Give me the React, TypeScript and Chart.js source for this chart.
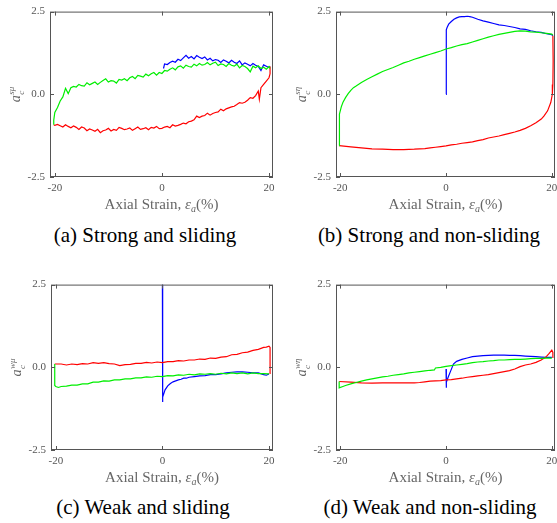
import { useEffect, useRef } from "react";
import { Chart, registerables } from "chart.js";

Chart.register(...registerables);

// ---- axis ticks ----
const X_TICKS = [-20, 0, 20];
const Y_TICKS = [-2.5, 0, 2.5];

// ---- (a) strong and sliding ----
const aBlueX = [0.3, 0.5, 1, 1.5, 2, 2.5, 3, 3.5, 4, 4.5, 5, 5.5, 6, 6.5, 7, 7.5, 8, 8.5, 9, 9.5, 10, 10.5, 11, 11.5, 12, 12.5, 13, 13.5, 14, 14.5, 15, 15.5, 16, 16.5, 17, 17.5, 18, 18.5, 19, 19.5, 20, 20.2];
const aBlueY = [0.78, 0.92, 0.9, 0.96, 1.0, 0.97, 1.06, 1.02, 1.1, 1.18, 1.09, 1.14, 1.07, 1.17, 1.12, 1.08, 1.13, 1.04, 1.09, 1.01, 1.05, 1.03, 0.96, 1.04, 1.0, 0.95, 1.03, 0.97, 0.93, 1.01, 0.89, 0.95, 0.91, 0.86, 0.93, 0.88, 0.84, 0.72, 0.89, 0.85, 0.81, 0.84];

const aRedX = [20.2, 20.2, 20, 19.5, 19, 18.5, 18.2, 18, 17.5, 17, 16.5, 16, 15.5, 15, 14.5, 14, 13.5, 13, 12.5, 12, 11.5, 11, 10.5, 10, 9.5, 9, 8.5, 8, 7.5, 7, 6.5, 6, 5.5, 5, 4.5, 4, 3.5, 3, 2.5, 2, 1.5, 1, 0.5, 0, -0.5, -1, -1.5, -2, -2.5, -3, -3.5, -4, -4.5, -5, -5.5, -6, -6.5, -7, -7.5, -8, -8.5, -9, -9.5, -10, -10.5, -11, -11.5, -12, -12.5, -13, -13.5, -14, -14.5, -15, -15.5, -16, -16.5, -17, -17.5, -18, -18.5, -19, -19.5, -20, -20.2];
const aRedY = [0.84, 0.62, 0.5, 0.4, 0.3, 0.2, -0.15, 0.1, -0.04, -0.12, -0.1, -0.18, -0.24, -0.27, -0.25, -0.31, -0.36, -0.38, -0.41, -0.44, -0.5, -0.45, -0.53, -0.55, -0.58, -0.63, -0.57, -0.64, -0.66, -0.7, -0.66, -0.77, -0.81, -0.83, -0.89, -0.87, -0.91, -0.94, -0.96, -0.92, -1.01, -0.97, -0.99, -1.03, -1.04, -0.97, -1.02, -1.0, -1.07, -1.01, -1.04, -1.06, -0.99, -1.04, -1.09, -1.02, -1.05, -1.07, -1.03, -1.0, -1.09, -1.06, -1.11, -1.03, -1.08, -1.1, -1.16, -1.06, -1.12, -1.08, -1.05, -1.1, -1.02, -0.99, -1.06, -1.0, -0.96, -1.01, -0.97, -0.92, -0.99, -0.95, -0.91, -0.94, -0.92];

const aGreenX = [-20.2, -20.2, -20, -19.5, -19, -18.5, -18, -17.5, -17, -16.5, -16, -15.5, -15, -14.5, -14, -13.5, -13, -12.5, -12, -11.5, -11, -10.5, -10, -9.5, -9, -8.5, -8, -7.5, -7, -6.5, -6, -5.5, -5, -4.5, -4, -3.5, -3, -2.5, -2, -1.5, -1, -0.5, 0, 0.5, 1, 1.5, 2, 2.5, 3, 3.5, 4, 4.5, 5, 5.5, 6, 6.5, 7, 7.5, 8, 8.5, 9, 9.5, 10, 10.5, 11, 11.5, 12, 12.5, 13, 13.5, 14, 14.5, 15, 15.5, 16, 16.5, 17, 17.5, 18, 18.5, 19, 19.5, 20, 20.2];
const aGreenY = [-0.92, -0.78, -0.55, -0.4, -0.2, -0.08, 0.18, 0.02, 0.2, 0.24, 0.22, 0.3, 0.26, 0.25, 0.35, 0.29, 0.33, 0.37, 0.3, 0.36, 0.42, 0.47, 0.37, 0.41, 0.4, 0.34, 0.45, 0.43, 0.47, 0.41, 0.5, 0.54, 0.47, 0.57, 0.55, 0.52, 0.61, 0.56, 0.62, 0.66, 0.58, 0.66, 0.63, 0.72, 0.7, 0.76, 0.8, 0.74, 0.83, 0.86, 0.79, 0.88, 0.84, 0.82, 0.91, 0.86, 0.93, 0.88, 0.9, 0.96, 0.89, 0.94, 0.97, 0.87, 0.92, 0.9, 0.84, 0.93, 0.88, 0.85, 0.91, 0.8, 0.87, 0.84, 0.78, 0.68, 0.85, 0.8, 0.86, 0.78, 0.82, 0.76, 0.84, 0.78];

// ---- (b) strong and non-sliding ----
const bBlueX = [0, 0.05, 0.2, 0.5, 1, 1.5, 2, 2.5, 3, 3.5, 4, 4.5, 5, 5.5, 6, 7, 8, 9, 10, 11, 12, 13, 14, 15, 16, 17, 18, 19, 20, 20.2];
const bBlueY = [0, 1.95, 2.02, 2.12, 2.2, 2.27, 2.31, 2.34, 2.35, 2.35, 2.36, 2.35, 2.33, 2.3, 2.27, 2.22, 2.18, 2.14, 2.1, 2.08, 2.05, 2.02, 1.98, 1.96, 1.92, 1.89, 1.87, 1.83, 1.8, 1.77];

const bRedX = [20.2, 20.25, 20.2, 20.1, 19.8, 19.2, 18.5, 18, 17, 16, 15, 14, 13, 12, 11, 10, 9, 8, 7, 6, 5, 4, 3, 2, 1, 0, -1, -2, -3, -4, -5, -6, -8, -10, -12, -14, -16, -18, -20.2];
const bRedY = [1.77, 1.0, 0.3, 0.0, -0.25, -0.5, -0.66, -0.75, -0.86, -0.95, -1.03, -1.09, -1.14, -1.18, -1.22, -1.26, -1.29, -1.32, -1.37, -1.4, -1.44, -1.46, -1.48, -1.51, -1.53, -1.56, -1.58, -1.6, -1.62, -1.64, -1.65, -1.66, -1.67, -1.67, -1.66, -1.65, -1.62, -1.59, -1.55];

const bGreenX = [-20.2, -20.2, -20.1, -19.8, -19.5, -19, -18.5, -18, -17.5, -17, -16, -15, -14, -13, -12, -11, -10, -9, -8, -7, -6, -5, -4, -3, -2, -1, 0, 1, 2, 3, 4, 5, 6, 7, 8, 9, 10, 11, 12, 13, 14, 15, 16, 17, 18, 19, 20, 20.2];
const bGreenY = [-1.55, -0.9, -0.6, -0.38, -0.25, -0.1, 0.02, 0.12, 0.2, 0.25, 0.36, 0.45, 0.53, 0.61, 0.69, 0.75, 0.81, 0.88, 0.95, 1.0, 1.06, 1.11, 1.16, 1.21, 1.26, 1.31, 1.37, 1.41, 1.46, 1.5, 1.53, 1.58, 1.63, 1.68, 1.73, 1.77, 1.81, 1.84, 1.87, 1.9, 1.92, 1.91, 1.89, 1.88, 1.86, 1.84, 1.82, 1.79];

// ---- (c) weak and sliding ----
const cBlueX = [0, 0, 0.1, 0.3, 0.5, 1, 1.5, 2, 2.5, 3, 3.5, 4, 4.5, 5, 6, 7, 8, 9, 10, 11, 12, 13, 14, 15, 16, 17, 18, 19, 19.5, 20];
const cBlueY = [2.5, -1.05, -0.9, -0.78, -0.68, -0.56, -0.49, -0.44, -0.41, -0.38, -0.36, -0.33, -0.33, -0.3, -0.28, -0.26, -0.25, -0.22, -0.22, -0.2, -0.17, -0.15, -0.14, -0.14, -0.15, -0.17, -0.17, -0.22, -0.24, -0.2];

const cRedX = [20.2, 20.2, 20, 19.5, 19, 18, 17, 16, 15, 14, 13, 12, 11, 10, 9, 8, 7, 6, 5, 4, 3, 2, 1, 0, -1, -2, -3, -4, -5, -6, -7, -8, -9, -10, -11, -12, -13, -14, -15, -16, -17, -18, -19, -20.2];
const cRedY = [-0.2, 0.6, 0.64, 0.61, 0.6, 0.54, 0.51, 0.46, 0.44, 0.39, 0.38, 0.32, 0.31, 0.27, 0.28, 0.24, 0.25, 0.22, 0.22, 0.19, 0.2, 0.17, 0.17, 0.14, 0.16, 0.13, 0.15, 0.12, 0.12, 0.09, 0.08, 0.05, 0.1, 0.11, 0.14, 0.12, 0.14, 0.1, 0.11, 0.08, 0.1, 0.07, 0.1, 0.1];

const cGreenX = [-20.2, -20.2, -20, -19.5, -19, -18, -17, -16, -15, -14, -13, -12, -11, -10, -9, -8, -7, -6, -5, -4, -3, -2, -1, 0, 1, 2, 3, 4, 5, 6, 7, 8, 9, 10, 11, 12, 13, 14, 15, 16, 17, 18, 19, 20];
const cGreenY = [0.1, -0.55, -0.58, -0.61, -0.58, -0.57, -0.54, -0.54, -0.5, -0.5, -0.45, -0.45, -0.41, -0.42, -0.38, -0.38, -0.35, -0.35, -0.32, -0.32, -0.29, -0.3, -0.27, -0.28, -0.25, -0.26, -0.23, -0.24, -0.21, -0.23, -0.2, -0.21, -0.19, -0.21, -0.18, -0.2, -0.17, -0.19, -0.17, -0.2, -0.17, -0.19, -0.19, -0.2];

// ---- (d) weak and non-sliding ----
const dBlueX = [0, 0.02, 0.1, 0.4, 0.9, 1.4, 2, 3, 4, 5, 6, 7, 8, 9, 10, 11, 12, 13, 14, 15, 16, 17, 18, 19, 20];
const dBlueY = [-0.05, -0.62, -0.45, -0.3, -0.1, 0.1, 0.18, 0.24, 0.28, 0.32, 0.34, 0.35, 0.36, 0.37, 0.37, 0.37, 0.36, 0.36, 0.35, 0.34, 0.33, 0.32, 0.31, 0.3, 0.3];

const dRedX = [20.2, 20.2, 20, 19.5, 19, 18.5, 18, 17, 16, 15, 14, 13, 12, 11, 10, 9, 8, 7, 6, 5, 4, 3, 2, 1, 0, -1, -2, -3, -4, -5, -6, -8, -10, -12, -14, -16, -18, -20.2];
const dRedY = [0.28, 0.45, 0.52, 0.42, 0.33, 0.27, 0.22, 0.15, 0.1, 0.07, 0.02, -0.05, -0.1, -0.13, -0.16, -0.19, -0.22, -0.24, -0.26, -0.28, -0.3, -0.33, -0.35, -0.37, -0.38, -0.4, -0.41, -0.42, -0.44, -0.46, -0.47, -0.47, -0.47, -0.47, -0.48, -0.47, -0.45, -0.43];

const dGreenX = [-20.2, -20.2, -19.5, -19, -18, -17, -16, -15, -14, -13, -12, -11, -10, -9, -8, -7, -6, -5, -4, -3, -2.2, -2, -1, 0, 1, 2, 3, 4, 5, 6, 7, 8, 9, 10, 11, 12, 13, 14, 15, 16, 17, 18, 19, 20];
const dGreenY = [-0.43, -0.62, -0.58, -0.55, -0.5, -0.46, -0.42, -0.38, -0.35, -0.32, -0.29, -0.27, -0.24, -0.22, -0.2, -0.17, -0.15, -0.13, -0.11, -0.09, -0.08, -0.02, 0.0, 0.03, 0.05, 0.07, 0.09, 0.11, 0.14, 0.16, 0.17, 0.19, 0.2, 0.22, 0.22, 0.23, 0.24, 0.24, 0.25, 0.26, 0.27, 0.27, 0.28, 0.28];

// ---- styling ----
const BLUE = "#0000ff";
const RED = "#ff0000";
const GREEN = "#00ee00";
const FRAME = "#555555";
const TICK_COLOR = "#555555";
const TITLE_COLOR = "#666666";
const SERIF = '"Liberation Serif", "Times New Roman", serif';

type Series = { x: number[]; y: number[]; color: string };
type Area = { left: number; top: number; right: number; bottom: number };

// Box frame, inward tick marks, and the LaTeX-style axis titles.
const framePlugin = {
  id: "frame",
  afterDraw(chart: any, _args: any, opts: any) {
    const { ctx, chartArea, scales } = chart;
    const { left, right, top, bottom } = chartArea;
    ctx.save();
    ctx.strokeStyle = FRAME;
    ctx.lineWidth = 1;
    ctx.strokeRect(left + 0.5, top + 0.5, right - left - 1, bottom - top - 1);
    ctx.beginPath();
    for (const v of X_TICKS) {
      const px = Math.round(scales.x.getPixelForValue(v)) + 0.5;
      ctx.moveTo(px, bottom);
      ctx.lineTo(px, bottom - 4);
      ctx.moveTo(px, top);
      ctx.lineTo(px, top + 4);
    }
    for (const v of Y_TICKS) {
      const py = Math.round(scales.y.getPixelForValue(v)) + 0.5;
      ctx.moveTo(left, py);
      ctx.lineTo(left + 4, py);
      ctx.moveTo(right, py);
      ctx.lineTo(right - 4, py);
    }
    ctx.stroke();

    // x title: Axial Strain, ε_a(%)
    const parts = [
      { t: "Axial Strain, ", f: `15px ${SERIF}`, dy: 0 },
      { t: "ε", f: `italic 15px ${SERIF}`, dy: 0 },
      { t: "a", f: `italic 10px ${SERIF}`, dy: 3 },
      { t: "(%)", f: `15px ${SERIF}`, dy: 0 },
    ];
    let total = 0;
    for (const p of parts) {
      ctx.font = p.f;
      total += ctx.measureText(p.t).width;
    }
    let cx = (left + right) / 2 - total / 2;
    const ty = bottom + 32;
    ctx.fillStyle = TITLE_COLOR;
    ctx.textBaseline = "alphabetic";
    ctx.textAlign = "left";
    for (const p of parts) {
      ctx.font = p.f;
      ctx.fillText(p.t, cx, ty + p.dy);
      cx += ctx.measureText(p.t).width;
    }

    // y title: a_c^{sup}, rotated
    ctx.save();
    ctx.translate(left - 30, (top + bottom) / 2);
    ctx.rotate(-Math.PI / 2);
    ctx.font = `italic 14px ${SERIF}`;
    const aW = ctx.measureText("a").width;
    ctx.font = `italic 9px ${SERIF}`;
    const supW = ctx.measureText(opts.sup).width;
    const w = aW + Math.max(supW, 5) + 1;
    let yx = -w / 2;
    ctx.font = `italic 14px ${SERIF}`;
    ctx.fillText("a", yx, 0);
    yx += aW + 0.5;
    ctx.font = `italic 9px ${SERIF}`;
    ctx.fillText("c", yx, 3.5);
    ctx.fillText(opts.sup, yx, -6);
    ctx.restore();

    ctx.restore();
  },
};

function Panel(props: {
  left: number;
  top: number;
  width: number;
  height: number;
  area: Area;
  xMin: number;
  xMax: number;
  sup: string;
  series: Series[];
}) {
  const ref = useRef<HTMLCanvasElement>(null);
  useEffect(() => {
    const { width, height, area, xMin, xMax, sup, series } = props;
    const tickFont = { family: SERIF, size: 11 };
    const chart = new Chart(ref.current as HTMLCanvasElement, {
      type: "scatter",
      data: {
        datasets: series.map((s) => ({
          data: s.x.map((x, i) => ({ x, y: s.y[i] })),
          borderColor: s.color,
          backgroundColor: s.color,
          borderWidth: 1.2,
          showLine: true,
          pointRadius: 0,
          tension: 0,
          fill: false,
        })),
      },
      options: {
        responsive: false,
        animation: false,
        devicePixelRatio: 1,
        events: [],
        layout: {
          padding: { top: area.top, right: width - area.right, left: 0, bottom: 0 },
        },
        plugins: {
          legend: { display: false },
          tooltip: { enabled: false },
          frame: { sup },
        } as any,
        scales: {
          x: {
            type: "linear",
            min: xMin,
            max: xMax,
            grid: { display: false, drawTicks: false },
            border: { display: false },
            afterBuildTicks: (s: any) => {
              s.ticks = X_TICKS.map((v) => ({ value: v }));
            },
            afterFit: (s: any) => {
              s.height = height - area.bottom;
            },
            ticks: {
              padding: 5,
              color: TICK_COLOR,
              font: tickFont,
              autoSkip: false,
              maxRotation: 0,
              callback: (v: any) => String(v),
            },
          },
          y: {
            type: "linear",
            min: -2.5,
            max: 2.5,
            grid: { display: false, drawTicks: false },
            border: { display: false },
            afterBuildTicks: (s: any) => {
              s.ticks = Y_TICKS.map((v) => ({ value: v }));
            },
            afterFit: (s: any) => {
              s.width = area.left;
            },
            ticks: {
              padding: 5,
              color: TICK_COLOR,
              font: tickFont,
              autoSkip: false,
              callback: (v: any) => Number(v).toFixed(1),
            },
          },
        },
      },
      plugins: [framePlugin],
    });
    return () => chart.destroy();
  }, []);
  return (
    <canvas
      ref={ref}
      width={props.width}
      height={props.height}
      style={{ position: "absolute", left: props.left, top: props.top, width: props.width, height: props.height }}
    />
  );
}

function Caption({ cx, cy, text }: { cx: number; cy: number; text: string }) {
  return (
    <div
      style={{
        position: "absolute",
        left: cx - 150,
        top: cy - 12,
        width: 300,
        textAlign: "center",
        font: `21px ${SERIF}`,
        lineHeight: "24px",
        color: "#000",
        whiteSpace: "nowrap",
      }}
    >
      {text}
    </div>
  );
}

export default function App() {
  const seriesA: Series[] = [
    { x: aGreenX, y: aGreenY, color: GREEN },
    { x: aRedX, y: aRedY, color: RED },
    { x: aBlueX, y: aBlueY, color: BLUE },
  ];
  const seriesB: Series[] = [
    { x: bGreenX, y: bGreenY, color: GREEN },
    { x: bRedX, y: bRedY, color: RED },
    { x: bBlueX, y: bBlueY, color: BLUE },
  ];
  const seriesC: Series[] = [
    { x: cGreenX, y: cGreenY, color: GREEN },
    { x: cRedX, y: cRedY, color: RED },
    { x: cBlueX, y: cBlueY, color: BLUE },
  ];
  const seriesD: Series[] = [
    { x: dGreenX, y: dGreenY, color: GREEN },
    { x: dRedX, y: dRedY, color: RED },
    { x: dBlueX, y: dBlueY, color: BLUE },
  ];
  return (
    <div
      style={{
        position: "absolute",
        left: 0,
        top: 0,
        width: 557,
        height: 523,
        overflow: "hidden",
        background: "#fff",
      }}
    >
      <Panel left={0} top={0} width={280} height={215} area={{ left: 50, top: 10, right: 273, bottom: 177 }} xMin={-20.9} xMax={20.75} sup="sμ" series={seriesA} />
      <Panel left={286} top={0} width={280} height={215} area={{ left: 50, top: 10, right: 269, bottom: 177 }} xMin={-20.8} xMax={20.6} sup="sη" series={seriesB} />
      <Panel left={0} top={273} width={280} height={215} area={{ left: 51, top: 10, right: 273, bottom: 177 }} xMin={-20.9} xMax={20.75} sup="wμ" series={seriesC} />
      <Panel left={286} top={273} width={280} height={215} area={{ left: 50, top: 10, right: 269, bottom: 177 }} xMin={-20.8} xMax={20.6} sup="wη" series={seriesD} />
      <Caption cx={145} cy={235} text="(a) Strong and sliding" />
      <Caption cx={429} cy={235} text="(b) Strong and non-sliding" />
      <Caption cx={143} cy={507} text="(c) Weak and sliding" />
      <Caption cx={430} cy={507} text="(d) Weak and non-sliding" />
    </div>
  );
}
